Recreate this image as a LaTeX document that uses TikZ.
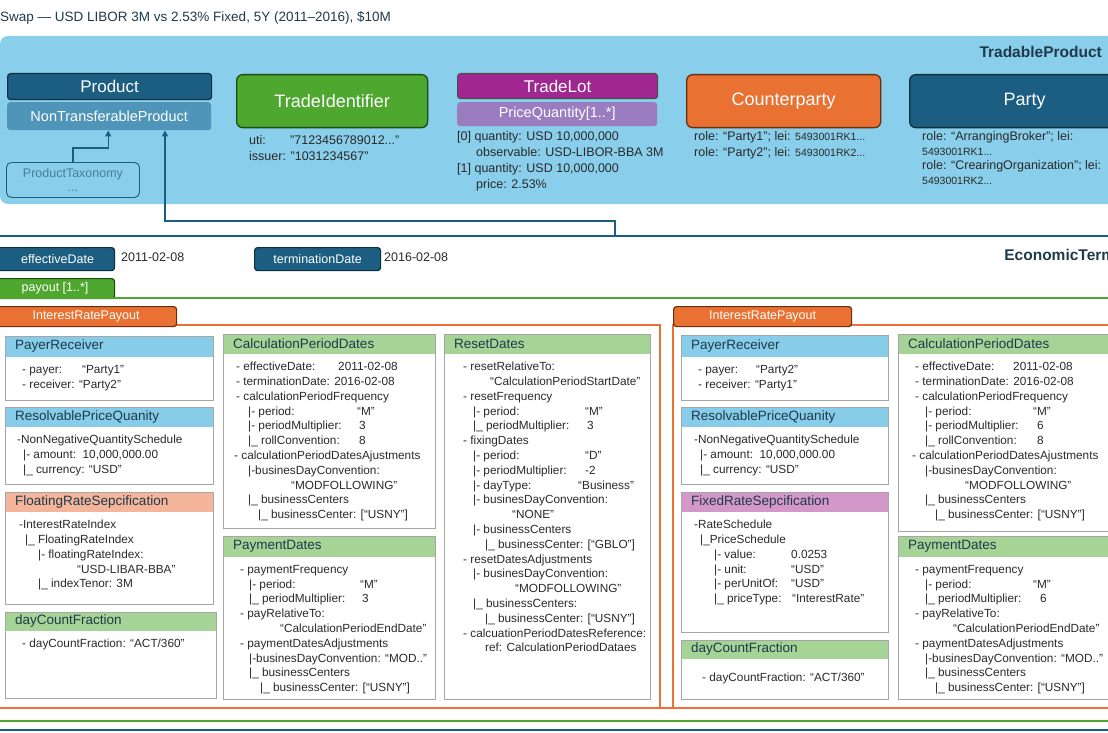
\documentclass[tikz,border=0pt]{standalone}
\usepackage{fontspec}
\setmainfont{Liberation Sans}
\usetikzlibrary{arrows.meta}
\definecolor{dblue}{HTML}{1B5E82}
\definecolor{dbord}{HTML}{0E2F40}
\definecolor{mblue}{HTML}{4E95B9}
\definecolor{panel}{HTML}{89CEEA}
\definecolor{tgreen}{HTML}{4EA72E}
\definecolor{gbord}{HTML}{1E4D12}
\definecolor{tpurple}{HTML}{A0278F}
\definecolor{lpurple}{HTML}{9A7CC0}
\definecolor{torange}{HTML}{E97132}
\definecolor{obord}{HTML}{6B2F10}
\definecolor{hblue}{HTML}{87CDEA}
\definecolor{hsalmon}{HTML}{F4B59A}
\definecolor{hgreen}{HTML}{A6D497}
\definecolor{hpink}{HTML}{D398C9}
\definecolor{cgray}{HTML}{A6A6A6}
\definecolor{htext}{HTML}{1F3A4A}
\definecolor{btext}{HTML}{2A2A2A}
\newcommand\bodyfont{\fontsize{11.8}{14.8}\selectfont}
\newcommand\Ln[2]{\hspace*{#1pt}#2}
\newcommand\kv[2]{\makebox[#1pt][l]{#2}}
\newcommand\cbox[9]{%
 \node[fill=white, minimum width=#4, minimum height=#5, anchor=north west, inner sep=0] (#1) at (#2,#3) {};
 \fill[#7] (#1.north west) rectangle ([shift={(0,#6)}]#1.north east);
 \draw[cgray, line width=0.9pt] (#1.north west) rectangle (#1.south east);
 \node[anchor=west, inner sep=0, text=htext, font=\fontsize{13.5}{15}\selectfont] at ([shift={(10,#6/2)}]#1.north west) {#8};
 \node[anchor=north west, inner sep=0, align=left, font=\bodyfont, text=btext] at ([shift={(0,#6+8)}]#1.north west) {#9};
}
\begin{document}
\begin{tikzpicture}[x=1pt,y=-1pt,
  big/.style={rounded corners=6pt, line width=1.3pt, text=white, font=\fontsize{18}{20}\selectfont, anchor=north west, inner sep=0},
  bar/.style={rounded corners=3pt, line width=1.2pt, text=white, font=\fontsize{17}{19}\selectfont, anchor=north west, inner sep=0},
  sub/.style={rounded corners=3pt, text=white, font=\fontsize{14.5}{17}\selectfont, anchor=north west, inner sep=0},
  tag/.style={rounded corners=3pt, line width=1.2pt, text=white, font=\fontsize{12.5}{14}\selectfont, anchor=north west, inner sep=0},
  info/.style={anchor=north west, inner sep=0, align=left, text=btext, font=\fontsize{12.5}{16.2}\selectfont},
  conn/.style={dblue, line width=1.3pt, -{Triangle[length=6pt,width=6pt]}}]
\useasboundingbox (0,0) rectangle (1108,733);
\clip (0,0) rectangle (1108,733);
% title
\node[anchor=west, inner sep=0, text=htext, font=\fontsize{13.5}{15}\selectfont] (title) at (0,18) {Swap — USD LIBOR 3M vs 2.53\% Fixed, 5Y (2011–2016), \$10M};
% tradable product panel
\fill[panel, rounded corners=8pt] (0,36) rectangle (1130,204);
\node[anchor=east, inner sep=0, text=htext, font=\bfseries\fontsize{15.5}{17}\selectfont] (tp) at (1102,52) {TradableProduct};
\node[bar, fill=dblue, draw=dbord, minimum width=204, minimum height=26] (prod) at (7,73) {Product};
\node[sub, fill=mblue, minimum width=204, minimum height=28] (ntp) at (7,102) {NonTransferableProduct};
\node[rounded corners=5pt, draw=dblue, line width=0.9pt, anchor=north west, inner sep=0, minimum width=133, minimum height=35, align=center, text=dblue!80, font=\fontsize{12.5}{14}\selectfont] (tax) at (6,162) {ProductTaxonomy\\...};
\node[big, fill=tgreen, draw=gbord, minimum width=191, minimum height=53] (tid) at (236,74) {TradeIdentifier};
\node[info] (tidt) at (249,135) {\kv{41}{uti:}"7123456789012..."\\issuer: "1031234567"};
\node[bar, fill=tpurple, draw=black!70, minimum width=200, minimum height=25] (lot) at (457,73) {TradeLot};
\node[sub, fill=lpurple, minimum width=200, minimum height=24] (pq) at (457,102) {PriceQuantity[1..*]};
\node[info] (pqt) at (457,131) {[0] quantity: USD 10,000,000\\\hspace*{19pt}observable: USD-LIBOR-BBA 3M\\{}[1] quantity: USD 10,000,000\\\hspace*{19pt}price: 2.53\%};
\node[big, fill=torange, draw=obord, minimum width=194, minimum height=53] (cp) at (686,74) {Counterparty};
\node[info] (cpt) at (694,131) {role: “Party1”; lei: {\fontsize{10.5}{12}\selectfont 5493001RK1...}\\role: “Party2”; lei: {\fontsize{10.5}{12}\selectfont 5493001RK2...}};
\node[big, fill=dblue, draw=dbord, minimum width=230, minimum height=53] (party) at (909,74) {Party};
\node[info, font=\fontsize{12.5}{14.8}\selectfont] (partyt) at (922,131) {role: “ArrangingBroker”; lei:\\{\fontsize{10.5}{12}\selectfont 5493001RK1...}\\role: “CrearingOrganization”; lei:\\{\fontsize{10.5}{12}\selectfont 5493001RK2...}};
% connectors
\coordinate (tb) at (73,148);
\draw[conn] (tax.north -| tb) -- (tb) -| ([xshift=-1pt]ntp.south);
\coordinate (et) at (615,236);
\coordinate (ec) at (615,221);
\draw[conn] (et) -- (ec) -| (ntp.south -| 165,0);
% economic terms
\draw[dblue, line width=1.3pt] (0,236) -- (1108,236);
\node[anchor=east, inner sep=0, text=htext, font=\bfseries\fontsize{15.5}{17}\selectfont] (etl) at (1124,255) {EconomicTerms};
\node[tag, fill=dblue, draw=dbord, minimum width=119, minimum height=23] (ed) at (-5,247) {\hspace*{5pt}effectiveDate};
\node[anchor=west, inner sep=0, font=\fontsize{12.5}{14}\selectfont, text=btext] (edv) at (121,257) {2011-02-08};
\node[tag, fill=dblue, draw=dbord, minimum width=126, minimum height=23] (td) at (254,247) {terminationDate};
\node[anchor=west, inner sep=0, font=\fontsize{12.5}{14}\selectfont, text=btext] (tdv) at (384,257) {2016-02-08};
\node[tag, fill=tgreen, draw=gbord, minimum width=119, minimum height=20] (po) at (-5,278) {payout [1..*]};
\draw[tgreen, line width=1.2pt] (0,298) -- (1108,298);
% payout containers
\draw[torange, line width=1.2pt] (-2,325) rectangle (660,708);
\draw[torange, line width=1.2pt] (673,325) rectangle (1130,708);
\node[tag, fill=torange, draw=obord, minimum width=181, minimum height=20] (irp1) at (-5,306) {InterestRatePayout};
\node[tag, fill=torange, draw=obord, minimum width=178, minimum height=20] (irp2) at (673,306) {InterestRatePayout};
\draw[torange, line width=1.2pt] (0,708) -- (1108,708);
\draw[tgreen, line width=1.2pt] (0,721) -- (1108,721);
\draw[dblue, line width=1.2pt] (0,730) -- (1108,730);
% left payout boxes
\cbox{pr1}{5}{336}{208}{64}{21}{hblue}{PayerReceiver}{%
\Ln{17}{\kv{60}{- payer:}“Party1”}\\\Ln{17}{- receiver: “Party2”}}
\cbox{rq1}{5}{407}{208}{77}{20}{hblue}{ResolvablePriceQuanity}{%
\Ln{12}{-NonNegativeQuantitySchedule}\\\Ln{18}{|- amount:\ \ 10,000,000.00}\\\Ln{18}{|\_ currency: “USD”}}
\cbox{fr1}{5}{492}{208}{112}{20}{hsalmon}{FloatingRateSepcification}{%
\Ln{14}{-InterestRateIndex}\\\Ln{20}{|\_ FloatingRateIndex}\\\Ln{33}{|- floatingRateIndex:}\\\Ln{72}{“USD-LIBAR-BBA”}\\\Ln{33}{|\_ indexTenor: 3M}}
\cbox{dc1}{5}{612}{211}{86}{19}{hgreen}{dayCountFraction}{%
\Ln{17}{- dayCountFraction: “ACT/360”}}
\cbox{cpd1}{223}{334}{212}{194}{20}{hgreen}{CalculationPeriodDates}{%
\Ln{13}{\kv{102}{- effectiveDate:}2011-02-08}\\\Ln{13}{- terminationDate: 2016-02-08}\\\Ln{13}{- calculationPeriodFrequency}\\
\Ln{25}{\kv{109}{|- period:}“M”}\\\Ln{25}{\kv{111}{|- periodMultiplier:}3}\\\Ln{25}{\kv{111}{|\_ rollConvention:}8}\\
\Ln{11}{- calculationPeriodDatesAjustments}\\\Ln{25}{|-businesDayConvention:}\\\Ln{68}{“MODFOLLOWING”}\\\Ln{25}{|\_ businessCenters}\\\Ln{35}{|\_ businessCenter: [“USNY”]}}
\cbox{pd1}{223}{536}{212}{163}{21}{hgreen}{PaymentDates}{%
\Ln{17}{- paymentFrequency}\\\Ln{26}{\kv{111}{|- period:}“M”}\\\Ln{26}{\kv{113}{|\_ periodMultiplier:}3}\\\Ln{17}{- payRelativeTo:}\\\Ln{57}{“CalculationPeriodEndDate”}\\
\Ln{17}{- paymentDatesAdjustments}\\\Ln{26}{|-businesDayConvention: “MOD..”}\\\Ln{26}{|\_ businessCenters}\\\Ln{37}{|\_ businessCenter: [“USNY”]}}
\cbox{rd1}{444}{334}{206}{365}{20}{hgreen}{ResetDates}{%
\Ln{19}{- resetRelativeTo:}\\\Ln{46}{“CalculationPeriodStartDate”}\\\Ln{19}{- resetFrequency}\\\Ln{29}{\kv{112}{|- period:}“M”}\\\Ln{29}{\kv{114}{|\_ periodMultiplier:}3}\\
\Ln{19}{- fixingDates}\\\Ln{29}{\kv{112}{|- period:}“D”}\\\Ln{29}{\kv{112}{|- periodMultiplier:}-2}\\\Ln{29}{\kv{105}{|- dayType:}“Business”}\\\Ln{29}{|- businesDayConvention:}\\\Ln{68}{“NONE”}\\
\Ln{29}{|- businessCenters}\\\Ln{41}{|\_ businessCenter: [“GBLO”]}\\\Ln{19}{- resetDatesAdjustments}\\\Ln{29}{|- businesDayConvention:}\\\Ln{71}{“MODFOLLOWING”}\\\Ln{29}{|\_ businessCenters:}\\\Ln{41}{|\_ businessCenter: [“USNY”]}\\
\Ln{19}{- calcuationPeriodDatesReference:}\\\Ln{41}{ref: CalculationPeriodDataes}}
% right payout boxes
\cbox{pr2}{681}{335}{207}{65}{22}{hblue}{PayerReceiver}{%
\Ln{17}{\kv{58}{- payer:}“Party2”}\\\Ln{17}{- receiver: “Party1”}}
\cbox{rq2}{681}{407}{207}{77}{20}{hblue}{ResolvablePriceQuanity}{%
\Ln{13}{-NonNegativeQuantitySchedule}\\\Ln{19}{|- amount:\ \ 10,000,000.00}\\\Ln{19}{|\_ currency: “USD”}}
\cbox{fx2}{681}{492}{207}{140}{20}{hpink}{FixedRateSepcification}{%
\Ln{13}{-RateSchedule}\\\Ln{19}{|\_PriceSchedule}\\\Ln{33}{\kv{77}{|- value:}0.0253}\\\Ln{33}{\kv{77}{|- unit:}“USD”}\\\Ln{33}{\kv{77}{|- perUnitOf:}“USD”}\\\Ln{33}{\kv{78}{|\_ priceType:}“InterestRate”}}
\cbox{dc2}{681}{640}{207}{59}{19}{hgreen}{dayCountFraction}{%
\rule{0pt}{14pt}\Ln{21}{- dayCountFraction: “ACT/360”}}
\cbox{cpd2}{898}{334}{230}{197}{20}{hgreen}{CalculationPeriodDates}{%
\Ln{17}{\kv{98}{- effectiveDate:}2011-02-08}\\\Ln{17}{- terminationDate: 2016-02-08}\\\Ln{17}{- calculationPeriodFrequency}\\
\Ln{27}{\kv{108}{|- period:}“M”}\\\Ln{27}{\kv{112}{|- periodMultiplier:}6}\\\Ln{27}{\kv{112}{|\_ rollConvention:}8}\\
\Ln{14}{- calculationPeriodDatesAjustments}\\\Ln{27}{|-businesDayConvention:}\\\Ln{67}{“MODFOLLOWING”}\\\Ln{27}{|\_ businessCenters}\\\Ln{37}{|\_ businessCenter: [“USNY”]}}
\cbox{pd2}{898}{536}{230}{163}{21}{hgreen}{PaymentDates}{%
\Ln{17}{- paymentFrequency}\\\Ln{27}{\kv{108}{|- period:}“M”}\\\Ln{27}{\kv{115}{|\_ periodMultiplier:}6}\\\Ln{17}{- payRelativeTo:}\\\Ln{55}{“CalculationPeriodEndDate”}\\
\Ln{17}{- paymentDatesAdjustments}\\\Ln{27}{|-businesDayConvention: “MOD..”}\\\Ln{27}{|\_ businessCenters}\\\Ln{37}{|\_ businessCenter: [“USNY”]}}
\end{tikzpicture}
\end{document}
